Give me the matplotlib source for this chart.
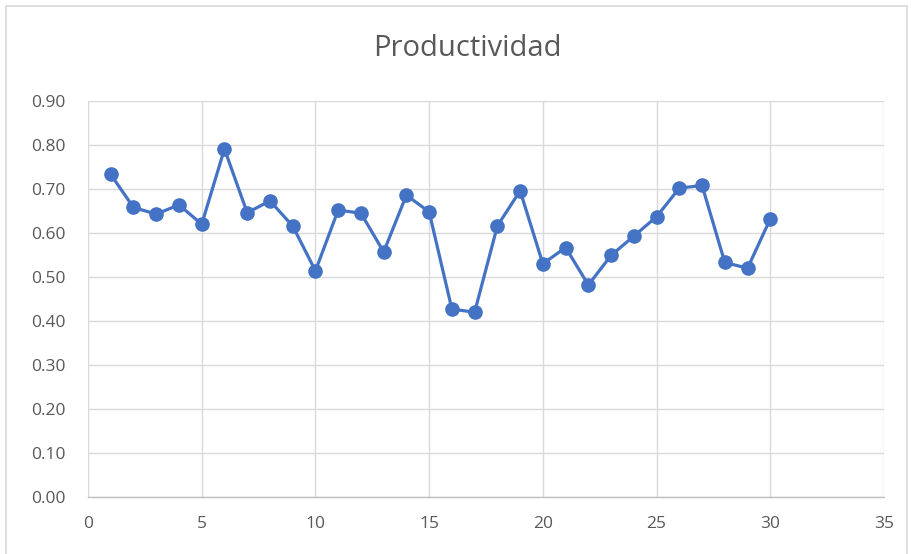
import matplotlib
matplotlib.use("Agg")
import matplotlib.pyplot as plt
from matplotlib.patches import Rectangle

# Productividad por periodo
periodos = list(range(1, 31))
productividad = [0.733, 0.658, 0.643, 0.664, 0.620, 0.791, 0.646, 0.673, 0.616, 0.514,
                 0.652, 0.645, 0.557, 0.686, 0.648, 0.427, 0.420, 0.616, 0.696, 0.530,
                 0.567, 0.482, 0.549, 0.593, 0.637, 0.702, 0.708, 0.533, 0.520, 0.632]
x_ticks = [0, 5, 10, 15, 20, 25, 30, 35]
y_ticks = [0.0, 0.1, 0.2, 0.3, 0.4, 0.5, 0.6, 0.7, 0.8, 0.9]
titulo = "Productividad"

W, H = 912, 554
fig = plt.figure(figsize=(W / 100, H / 100), dpi=100)
fam = ["Open Sans", "DejaVu Sans"]
txt = "#595959"

# chart-area border
fig.patches.append(Rectangle((6 / W, -0.05), 901 / W, 1.05 - 6 / H,
                             transform=fig.transFigure, fill=False,
                             edgecolor="#d9d9d9", linewidth=1.2))

left, right, top, bottom = 88, 884, 101, 497
ax = fig.add_axes([left / W, (H - bottom) / H, (right - left) / W, (bottom - top) / H])

ax.plot(periodos, productividad, color="#4472C4", linewidth=2.3,
        marker="o", markersize=9.5, zorder=3, clip_on=False)

ax.set_xlim(0, 35)
ax.set_ylim(0, 0.9)
ax.set_xticks(x_ticks)
ax.set_yticks(y_ticks)
ax.set_yticklabels([f"{v:.2f}" for v in y_ticks])
ax.grid(True, color="#d9d9d9", linewidth=1.0, zorder=0)
ax.set_axisbelow(True)
for s in ["left", "right", "top"]:
    ax.spines[s].set_visible(False)
ax.spines["bottom"].set_color("#bfbfbf")
ax.spines["bottom"].set_linewidth(1.0)
ax.tick_params(axis="both", length=0, colors=txt, labelsize=12.5)
ax.tick_params(axis="y", pad=16)
ax.tick_params(axis="x", pad=14)
for lab in ax.get_xticklabels() + ax.get_yticklabels():
    lab.set_family(fam)

fig.text(467 / W, 1 - 49 / H, titulo, ha="center", va="center",
         fontsize=21, color=txt, family=fam)

fig.savefig("out.png", dpi=100)
